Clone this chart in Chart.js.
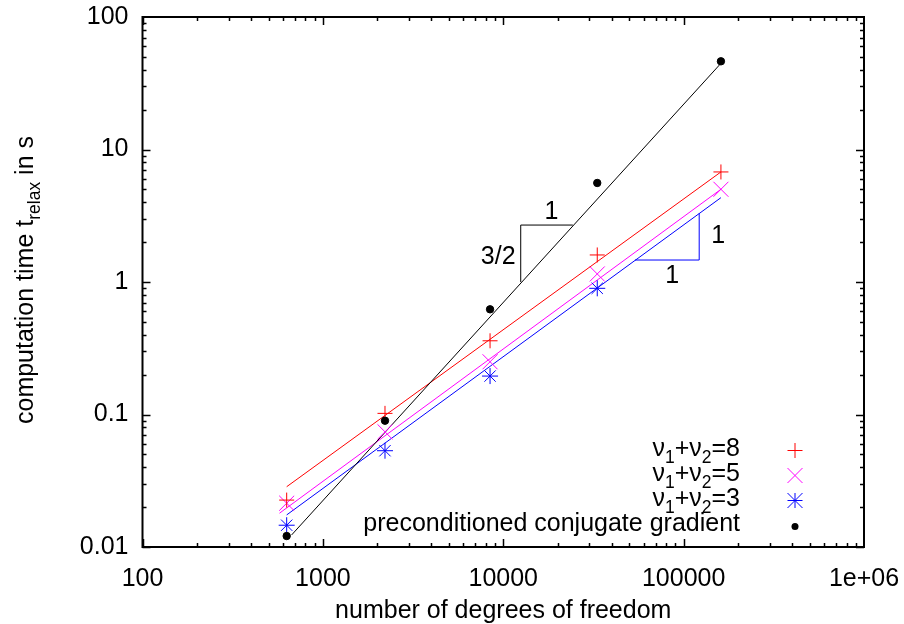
<!DOCTYPE html>
<html><head><meta charset="utf-8">
<script src="https://cdn.jsdelivr.net/npm/chart.js@4.4.0/dist/chart.umd.min.js"></script>
<style>html,body{margin:0;padding:0;background:#fff}#wrap{width:904px;height:624px}</style>
</head><body><div id="wrap"><canvas id="c" width="904" height="624"></canvas></div>
<script>
// ---- data ----
const dof   = [630, 2210, 8450, 33200, 161000];
const tNu8  = [0.0226, 0.102, 0.36, 1.60, 6.77];
const tNu5  = [0.0214, 0.074, 0.25, 1.15, 5.01];
const tNu3  = [0.0146, 0.0533, 0.195, 0.896, null];
const tPcg  = [0.0121, 0.0898, 0.622, 5.59, 46.3];

// fitted lines (end points)
const fitNu8X = [630, 161000],  fitNu8Y = [0.0285, 6.77];
const fitNu5X = [575, 161000],  fitNu5Y = [0.0180, 5.01];
const fitNu3X = [630, 161000],  fitNu3Y = [0.01746, 4.33];
const fitPcgX = [671, 161000],  fitPcgY = [0.01233, 44.7];

// slope triangles
const triPcgX = [12500, 12500, 24300], triPcgY = [1.0, 2.69, 2.69];
const triMgX  = [53700, 122000, 122000], triMgY = [1.465, 1.465, 3.30];

// tick labels
const xTickValues = [100, 1000, 10000, 100000, 1000000];
const xTickLabels = ['100', '1000', '10000', '100000', '1e+06'];
const yTickValues = [0.01, 0.1, 1, 10, 100];
const yTickLabels = ['0.01', '0.1', '1', '10', '100'];

// legend
const legendSums = ['8', '5', '3'];
const legendPcg = 'preconditioned conjugate gradient';

const FONT = 'Liberation Sans, Arial, sans-serif';
const FS = 25;

function pts(xs, ys) { return xs.map((x, i) => ({x: x, y: ys[i]})).filter(p => p.y !== null); }

const annotations = [
  {text: '1',   x: 18500,  y: 3.39},
  {text: '3/2', x: 9380,   y: 1.55},
  {text: '1',   x: 155600, y: 2.22},
  {text: '1',   x: 86500,  y: 1.10}
];

const RED = '#ff0000', MAG = '#ff00ff', BLU = '#0000ff', BLK = '#000000';

function drawMarker(ctx, style, x, y, color) {
  ctx.save();
  ctx.strokeStyle = color; ctx.fillStyle = color; ctx.lineWidth = 1;
  ctx.beginPath();
  if (style === 'cross' || style === 'star') {
    const r = 7.5;
    ctx.moveTo(x - r, y); ctx.lineTo(x + r, y);
    ctx.moveTo(x, y - r); ctx.lineTo(x, y + r);
  }
  if (style === 'crossRot' || style === 'star') {
    const r = 7.5;
    ctx.moveTo(x - r, y - r); ctx.lineTo(x + r, y + r);
    ctx.moveTo(x - r, y + r); ctx.lineTo(x + r, y - r);
  }
  if (style === 'circle') {
    ctx.arc(x, y, 3.5, 0, Math.PI * 2); ctx.fill();
  } else ctx.stroke();
  ctx.restore();
}

function drawParts(ctx, parts, xRight, base) {
  let w = 0;
  parts.forEach(p => { ctx.font = (p[1] ? 17.5 : FS) + 'px ' + FONT; w += ctx.measureText(p[0]).width; });
  let x = xRight - w;
  parts.forEach(p => {
    ctx.font = (p[1] ? 17.5 : FS) + 'px ' + FONT;
    ctx.fillText(p[0], x, base + (p[1] ? 7 : 0));
    x += ctx.measureText(p[0]).width;
  });
}

const decor = {
  id: 'decor',
  afterDraw(chart) {
    const ctx = chart.ctx, xs = chart.scales.x, ys = chart.scales.y;
    const {left, right, top, bottom} = chart.chartArea;
    ctx.save();
    // ticks
    ctx.strokeStyle = '#000'; ctx.lineWidth = 1.5;
    ctx.beginPath();
    for (let d = 100; d < 1e6; d *= 10) {
      for (let m = 1; m <= 9; m++) {
        const px = Math.round(xs.getPixelForValue(m * d)) + 0.5;
        const len = m === 1 ? 8 : 4;
        ctx.moveTo(px, bottom); ctx.lineTo(px, bottom - len);
        ctx.moveTo(px, top); ctx.lineTo(px, top + len);
      }
    }
    for (let d = 0.01; d < 99; d *= 10) {
      for (let m = 1; m <= 9; m++) {
        const py = Math.round(ys.getPixelForValue(m * d)) + 0.5;
        const len = m === 1 ? 8 : 4;
        ctx.moveTo(left, py); ctx.lineTo(left + len, py);
        ctx.moveTo(right, py); ctx.lineTo(right - len, py);
      }
    }
    ctx.stroke();
    // frame
    ctx.lineWidth = 2;
    ctx.strokeRect(left, top, right - left, bottom - top);

    ctx.fillStyle = '#000';
    // annotations
    ctx.font = FS + 'px ' + FONT; ctx.textAlign = 'center'; ctx.textBaseline = 'middle';
    annotations.forEach(a => ctx.fillText(a.text, xs.getPixelForValue(a.x), ys.getPixelForValue(a.y)));

    // x title
    ctx.textBaseline = 'alphabetic';
    ctx.fillText('number of degrees of freedom', (left + right) / 2, 618);

    // y title
    ctx.save();
    ctx.translate(33, 280);
    ctx.rotate(-Math.PI / 2);
    ctx.textAlign = 'left';
    const yparts = [['computation time t', false], ['relax', true], [' in s', false]];
    let w = 0;
    yparts.forEach(p => { ctx.font = (p[1] ? 17.5 : FS) + 'px ' + FONT; w += ctx.measureText(p[0]).width; });
    drawParts(ctx, yparts, w / 2, 0);
    ctx.restore();

    // legend
    ctx.textAlign = 'left';
    const styles = [['cross', RED], ['crossRot', MAG], ['star', BLU]];
    legendSums.forEach((s, i) => {
      const base = 456 + i * 25;
      drawParts(ctx, [['ν', false], ['1', true], ['+ν', false], ['2', true], ['=' + s, false]], 740, base);
      drawMarker(ctx, styles[i][0], 795, base - 5.5, styles[i][1]);
    });
    drawParts(ctx, [[legendPcg, false]], 740, 531);
    drawMarker(ctx, 'circle', 795, 526.5, BLK);
    ctx.restore();
  }
};

const lineDs = (data, color) => ({data: data, showLine: true, borderColor: color, borderWidth: 1, pointRadius: 0, fill: false});
const ptDs = (data, style, color, r) => ({data: data, showLine: false, pointStyle: style, pointRadius: r,
  borderColor: color, backgroundColor: color, borderWidth: 1, pointHoverRadius: r});

new Chart(document.getElementById('c'), {
  type: 'scatter',
  data: {
    datasets: [
      ptDs(pts(dof, tPcg), 'circle', BLK, 3.7),
      ptDs(pts(dof, tNu8), 'cross', RED, 7.5),
      ptDs(pts(dof, tNu5), 'crossRot', MAG, 10.6),
      ptDs(pts(dof, tNu3), 'star', BLU, 8),
      lineDs(pts(fitPcgX, fitPcgY), BLK),
      lineDs(pts(fitNu8X, fitNu8Y), RED),
      lineDs(pts(fitNu5X, fitNu5Y), MAG),
      lineDs(pts(fitNu3X, fitNu3Y), BLU),
      lineDs(pts(triPcgX, triPcgY), BLK),
      lineDs(pts(triMgX, triMgY), BLU)
    ]
  },
  options: {
    responsive: false,
    animation: false,
    layout: {padding: {top: 17, right: 40, left: 0, bottom: 0}},
    plugins: {legend: {display: false}, tooltip: {enabled: false}},
    scales: {
      x: {
        type: 'logarithmic', min: 100, max: 1e6,
        afterBuildTicks: s => { s.ticks = xTickValues.map(v => ({value: v})); },
        afterFit: s => { s.height = 77; s.paddingLeft = 0; s.paddingRight = 0; },
        grid: {display: false, drawTicks: false},
        border: {display: false},
        ticks: {color: '#000', font: {family: FONT, size: FS}, padding: 17, maxRotation: 0, autoSkip: false,
          callback: (v) => { const i = xTickValues.indexOf(v); return i >= 0 ? xTickLabels[i] : ''; }}
      },
      y: {
        type: 'logarithmic', min: 0.01, max: 100,
        afterBuildTicks: s => { s.ticks = yTickValues.map(v => ({value: v})); },
        afterFit: s => { s.width = 142.5; s.paddingTop = 0; s.paddingBottom = 0; },
        grid: {display: false, drawTicks: false},
        border: {display: false},
        ticks: {color: '#000', font: {family: FONT, size: FS}, padding: 14, autoSkip: false,
          callback: (v) => { const i = yTickValues.findIndex(t => Math.abs(t - v) / t < 1e-6); return i >= 0 ? yTickLabels[i] : ''; }}
      }
    }
  },
  plugins: [decor]
});
</script>
</body></html>
